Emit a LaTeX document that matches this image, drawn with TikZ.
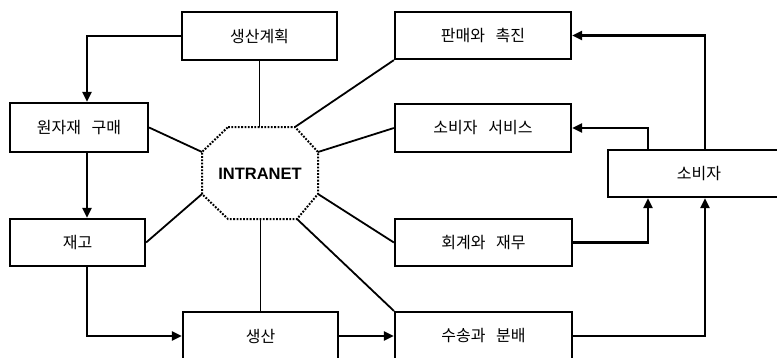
\documentclass[tikz,border=0pt]{standalone}
\usepackage{fontspec}
\setmainfont{Liberation Sans}
\newfontfamily\kr[WordSpace=3]{Noto Sans CJK KR}
\usetikzlibrary{arrows.meta}
\tikzset{
  box/.style={draw, line width=2.2pt, rectangle, inner sep=0pt, font=\kr\fontsize{16}{18}\selectfont},
  arr/.style={line width=2.2pt, -{Triangle[length=10pt,width=9pt]}},
  link/.style={line width=1.9pt},
  diag/.style={line width=1.8pt},
  octo/.style={line width=2pt, dash pattern=on 1.8pt off 1.5pt},
}
\begin{document}
\begin{tikzpicture}[x=1pt,y=-1pt]
\useasboundingbox (0,0) rectangle (777,357);
% boxes
\node[box, minimum width=155pt, minimum height=48pt] (plan) at (259.5,36) {생산계획};
\node[box, minimum width=138pt, minimum height=49pt] (buy) at (79,127.5) {원자재 구매};
\node[box, minimum width=135pt, minimum height=47pt] (stock) at (77.5,242.5) {재고};
\node[box, minimum width=155pt, minimum height=48pt] (prod) at (260.5,336) {생산};
\node[box, minimum width=176pt, minimum height=47pt] (sales) at (483,35.5) {판매와 촉진};
\node[box, minimum width=176pt, minimum height=48pt] (svc) at (483,128) {소비자 서비스};
\node[box, minimum width=177pt, minimum height=47pt] (acct) at (483.5,242.5) {회계와 재무};
\node[box, minimum width=177pt, minimum height=48pt] (ship) at (483.5,336) {수송과 분배};
\node[box, minimum width=182pt, minimum height=47pt, text width=159pt, align=center] (cons) at (699,173.5) {소비자};
% octagon
\coordinate (o1) at (228,127);
\coordinate (o2) at (295,127);
\coordinate (o3) at (318,152);
\coordinate (o4) at (318,194);
\coordinate (o5) at (297,219);
\coordinate (o6) at (228,219);
\coordinate (o7) at (202,194);
\coordinate (o8) at (202,152);
\draw[octo] (o1) -- (o2) -- (o3) -- (o4) -- (o5) -- (o6) -- (o7) -- (o8) -- cycle;
\node[font=\bfseries\fontsize{16.5}{18}\selectfont, inner sep=0pt] (net) at (260,173.5) {INTRANET};
% vertical links to hub
\draw[link] (plan.south) -- (plan.south |- o1);
\draw[link] (prod.north) -- (prod.north |- o6);
% diagonal links
\draw[diag] (buy.east) -- (o8);
\draw[diag] (stock.east) -- (o7);
\draw[diag] (sales.south west) -- (o2);
\draw[diag] (svc.west) -- (o3);
\draw[diag] (acct.west) -- (o4);
\draw[diag] (ship.north west) -- (o5);
% arrows on the left
\draw[arr] (plan.west) -| ([xshift=8pt]buy.north);
\draw[arr] ([xshift=8pt]buy.south) -- ([xshift=8pt]buy.south |- stock.north);
\draw[arr] ([xshift=8pt]buy.south |- stock.south) |- (prod.west);
\draw[arr] (prod.east) -- (ship.west);
% arrows on the right
\draw[arr] (ship.east) -| ([xshift=6pt]cons.south);
\draw[arr] (acct.east) -| ([xshift=-51pt]cons.south);
\draw[arr] ([xshift=-51pt]cons.north) |- (svc.east);
\draw[arr] ([xshift=6pt]cons.north) |- (sales.east);
\end{tikzpicture}
\end{document}
